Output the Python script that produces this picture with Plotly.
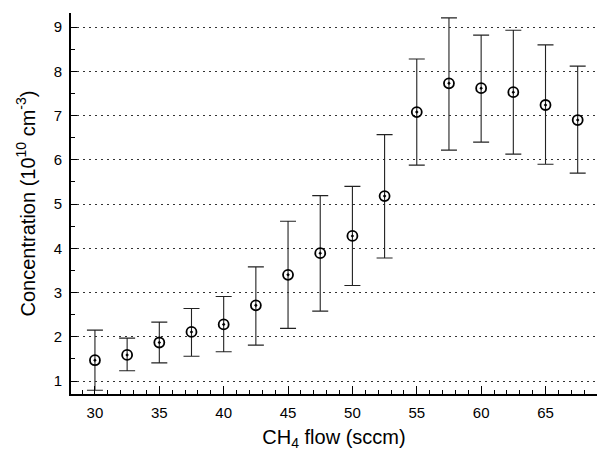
import plotly.graph_objects as go

flow = [30, 32.5, 35, 37.5, 40, 42.5, 45, 47.5, 50, 52.5, 55, 57.5, 60, 62.5, 65, 67.5]
conc = [1.47, 1.59, 1.87, 2.11, 2.28, 2.71, 3.40, 3.89, 4.28, 5.18, 7.08, 7.73, 7.62, 7.53, 7.24, 6.90]
upper = [2.15, 1.97, 2.33, 2.64, 2.91, 3.58, 4.61, 5.19, 5.40, 6.57, 8.28, 9.21, 8.82, 8.93, 8.60, 8.12]
lower = [0.79, 1.23, 1.41, 1.56, 1.66, 1.81, 2.19, 2.58, 3.16, 3.78, 5.88, 6.22, 6.40, 6.13, 5.90, 5.70]

x_ticks = [30, 35, 40, 45, 50, 55, 60, 65]
y_ticks = [1, 2, 3, 4, 5, 6, 7, 8, 9]

err_plus = [u - c for u, c in zip(upper, conc)]
err_minus = [c - l for c, l in zip(conc, lower)]

fig = go.Figure()
fig.add_trace(go.Scatter(
    x=flow, y=conc, mode="markers",
    marker=dict(symbol="circle-open-dot", size=10, color="black", line=dict(width=1.8, color="black")),
    error_y=dict(type="data", symmetric=False, array=err_plus, arrayminus=err_minus,
                 color="#222222", thickness=1.1, width=8),
    showlegend=False,
))

font_family = "Liberation Sans, Arial, sans-serif"
fig.update_layout(
    width=597, height=451,
    margin=dict(l=71, r=0, t=13, b=57, autoexpand=False),
    paper_bgcolor="white", plot_bgcolor="white",
    font=dict(family=font_family, color="black", size=15),
    xaxis=dict(
        range=[28.14, 69.0], tickvals=x_ticks, ticktext=[str(v) for v in x_ticks],
        showline=True, linecolor="black", linewidth=1.8, ticks="inside", ticklen=8,
        tickcolor="black", tickwidth=1.2, showgrid=False, zeroline=False,
        minor=dict(ticks="inside", dtick=1, tick0=30, ticklen=4, tickcolor="black", tickwidth=1),
        tickfont=dict(size=15), ticklabelstandoff=4,
        title=dict(text="CH<sub>4</sub> flow (sccm)", font=dict(size=20), standoff=10),
    ),
    yaxis=dict(
        range=[0.706, 9.32], tickvals=y_ticks, ticktext=[str(v) for v in y_ticks],
        showline=True, linecolor="black", linewidth=1.8, ticks="inside", ticklen=6,
        tickcolor="black", tickwidth=1.2, zeroline=False,
        showgrid=True, gridcolor="#333333", gridwidth=1, griddash="2px,4px",
        minor=dict(ticks="inside", dtick=0.5, tick0=0.5, ticklen=4, tickcolor="black", tickwidth=1, showgrid=False),
        tickfont=dict(size=15), ticklabelstandoff=4,
        title=dict(text="Concentration (10<sup>10</sup> cm<sup>-3</sup>)", font=dict(size=20), standoff=13),
    ),
)

fig.write_html("out.html", config={"displayModeBar": False},
               post_script="document.body.style.margin='0';document.body.style.overflow='hidden';")
